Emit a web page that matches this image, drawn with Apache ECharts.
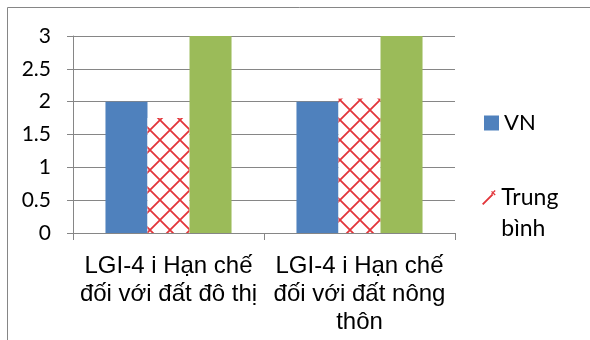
<!DOCTYPE html>
<html>
<head>
<meta charset="utf-8">
<script src="https://cdn.jsdelivr.net/npm/echarts@6/dist/echarts.min.js"></script>
<style>
  html, body { margin: 0; padding: 0; background: #fff; }
  #chart { width: 590px; height: 340px; }
</style>
</head>
<body>
<div id="chart"></div>
<script>
// Categories and series values
const categories = [
  'LGI-4 i Hạn chế\nđối với đất đô thị',
  'LGI-4 i Hạn chế\nđối với đất nông\nthôn'
];
const vnValues = [2, 2];
const avgValues = [1.75, 2.05];
const maxValues = [3, 3];
const yTicks = [0, 0.5, 1, 1.5, 2, 2.5, 3];

const GREY = '#868686';
const RED = '#e2353a';

// Red diamond crosshatch tile for the "Trung bình" bars
function crossHatch(size) {
  const c = document.createElement('canvas');
  c.width = size; c.height = size;
  const g = c.getContext('2d');
  g.fillStyle = '#ffffff';
  g.fillRect(0, 0, size, size);
  g.strokeStyle = RED;
  g.lineWidth = 1.8;
  g.beginPath();
  for (let k = -1; k <= 1; k++) {
    g.moveTo(k * size, 0); g.lineTo(k * size + size, size);
    g.moveTo(k * size + size, 0); g.lineTo(k * size, size);
  }
  g.stroke();
  return c;
}

const chart = echarts.init(document.getElementById('chart'), null, { renderer: 'canvas' });

chart.setOption({
  animation: false,
  backgroundColor: '#ffffff',
  graphic: [{
    type: 'rect',
    shape: { x: 7.5, y: 7.5, width: 700, height: 500 },
    style: { fill: 'none', stroke: GREY, lineWidth: 1 },
    silent: true
  }],
  grid: { left: 73, right: 135, top: 36, bottom: 107, containLabel: false },
  legend: [{
    orient: 'vertical',
    left: 484,
    top: 112,
    padding: 0,
    itemWidth: 15,
    itemHeight: 15,
    data: [{ name: 'VN', icon: 'rect' }],
    textStyle: { fontFamily: 'Lato', fontSize: 22, color: '#000' }
  }, {
    orient: 'vertical',
    left: 482,
    top: 151,
    padding: 0,
    itemWidth: 15,
    itemHeight: 15,
    data: [{
      name: 'Trung bình',
      icon: 'path://M0,14 L11,3 L12.5,4.5 L1.5,15.5 Z M11,0 L15,4 L14,5 L10,1 Z M15,0 L11,4 L10,3 L14,-1 Z',
      itemStyle: { color: RED }
    }],
    // leading empty line keeps the first text line level with the icon
    formatter: function () { return '\nTrung\nbình'; },
    textStyle: { fontFamily: 'Lato', fontSize: 23, color: '#000', lineHeight: 31 }
  }],
  xAxis: {
    type: 'category',
    data: categories,
    axisLine: { lineStyle: { color: GREY, width: 1 } },
    axisTick: { show: true, length: 7, lineStyle: { color: GREY } },
    axisLabel: {
      margin: 19,
      fontFamily: 'Liberation Sans',
      fontSize: 24,
      lineHeight: 28,
      color: '#000',
      interval: 0
    }
  },
  yAxis: {
    type: 'value',
    min: 0,
    max: 3,
    interval: 0.5,
    axisLine: { show: true, lineStyle: { color: GREY, width: 1 } },
    axisTick: { show: true, length: 6, lineStyle: { color: GREY } },
    splitLine: { lineStyle: { color: GREY, width: 1 } },
    axisLabel: {
      margin: 22,
      fontFamily: 'Lato',
      fontSize: 21,
      color: '#000',
      formatter: function (v) { return yTicks.indexOf(v) >= 0 ? String(v) : ''; }
    }
  },
  series: [{
    name: 'VN',
    type: 'bar',
    data: vnValues,
    barGap: '0%',
    barCategoryGap: '34%',
    itemStyle: { color: '#4f81bd' }
  }, {
    name: 'Trung bình',
    type: 'bar',
    data: avgValues,
    barGap: '0%',
    barCategoryGap: '34%',
    itemStyle: { color: { image: crossHatch(20), repeat: 'repeat' } }
  }, {
    name: 'Cao nhất',
    type: 'bar',
    data: maxValues,
    barGap: '0%',
    barCategoryGap: '34%',
    itemStyle: { color: '#9bbb59' }
  }]
});
</script>
</body>
</html>
